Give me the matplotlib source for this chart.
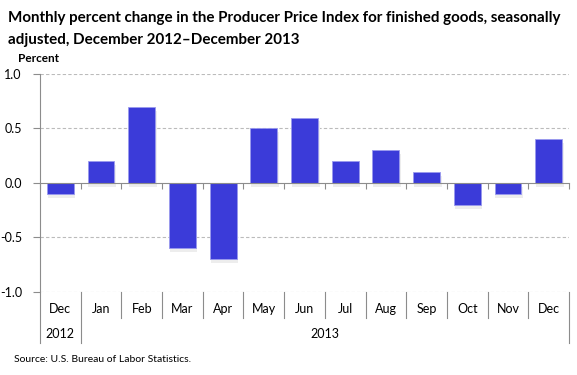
import numpy as np
import matplotlib.pyplot as plt
from matplotlib.lines import Line2D

plt.rcParams['font.family'] = ['Lato', 'DejaVu Sans']

months = ['Dec', 'Jan', 'Feb', 'Mar', 'Apr', 'May', 'Jun', 'Jul', 'Aug', 'Sep', 'Oct', 'Nov', 'Dec']
values = [-0.1, 0.2, 0.7, -0.6, -0.7, 0.5, 0.6, 0.2, 0.3, 0.1, -0.2, -0.1, 0.4]
years = ['2012', '2013']
yticks = [-1.0, -0.5, 0.0, 0.5, 1.0]

bar_color = '#3b3bd9'
axis_gray = '#8c8c8c'

fig = plt.figure(figsize=(5.77, 3.75), dpi=100)
ax = fig.add_axes([40 / 577, 1 - 292 / 375, 529 / 577, 218 / 375])

x = np.arange(len(months))
# faint soft shadow just below each bar
ax.bar(x + 0.03, values, width=0.68, bottom=-0.035, color='#ededed', zorder=2)
ax.bar(x, values, width=0.66, color=bar_color, edgecolor='#9a9aee', linewidth=0.6, zorder=3)

ax.set_xlim(-0.5, len(months) - 0.5)
ax.set_ylim(-1.0, 1.0)
ax.set_yticks(yticks)
ax.set_yticklabels(['%.1f' % v for v in yticks], fontsize=9)
for v in yticks:
    if v != 0:
        ax.axhline(v, color='#bbbbbb', linestyle=(0, (3, 2)), linewidth=0.8, zorder=1)

for s in ['top', 'right']:
    ax.spines[s].set_visible(False)
ax.spines['left'].set_color(axis_gray)
ax.spines['bottom'].set_position(('data', 0))
ax.spines['bottom'].set_color(axis_gray)
ax.spines['bottom'].set_zorder(4)
ax.set_xticks(np.arange(len(months) + 1) - 0.5)
ax.set_xticklabels([])
ax.tick_params(axis='x', length=4, color=axis_gray, direction='out')
ax.tick_params(axis='y', length=5, color=axis_gray, pad=8)

trans = ax.get_xaxis_transform()
for i, m in enumerate(months):
    ax.text(i, -0.078, m, transform=trans, ha='center', va='center', fontsize=9)
ax.text(0, -0.193, years[0], transform=trans, ha='center', va='center', fontsize=9)
ax.text(len(months) / 2, -0.193, years[1], transform=trans, ha='center', va='center', fontsize=9)

# separators under the plot
for i in range(len(months) + 1):
    b = i - 0.5
    low = -0.234 if i in (0, 1, len(months)) else -0.119
    ax.add_line(Line2D([b, b], [low, 0], transform=trans, color=axis_gray,
                       linewidth=0.8, clip_on=False))

fig.text(8 / 577, 1 - 18 / 375, 'Monthly percent change in the Producer Price Index for finished goods, seasonally',
         fontsize=10.9, fontweight='bold', va='center')
fig.text(8 / 577, 1 - 40 / 375, 'adjusted, December 2012\u2013December 2013',
         fontsize=10.9, fontweight='bold', va='center')
fig.text(18 / 577, 1 - 58 / 375, 'Percent', fontsize=8.5, fontweight='bold', va='center')
fig.text(14 / 577, 1 - 359 / 375, 'Source: U.S. Bureau of Labor Statistics.', fontsize=7.5, va='center')

fig.savefig('out.png', dpi=100)
